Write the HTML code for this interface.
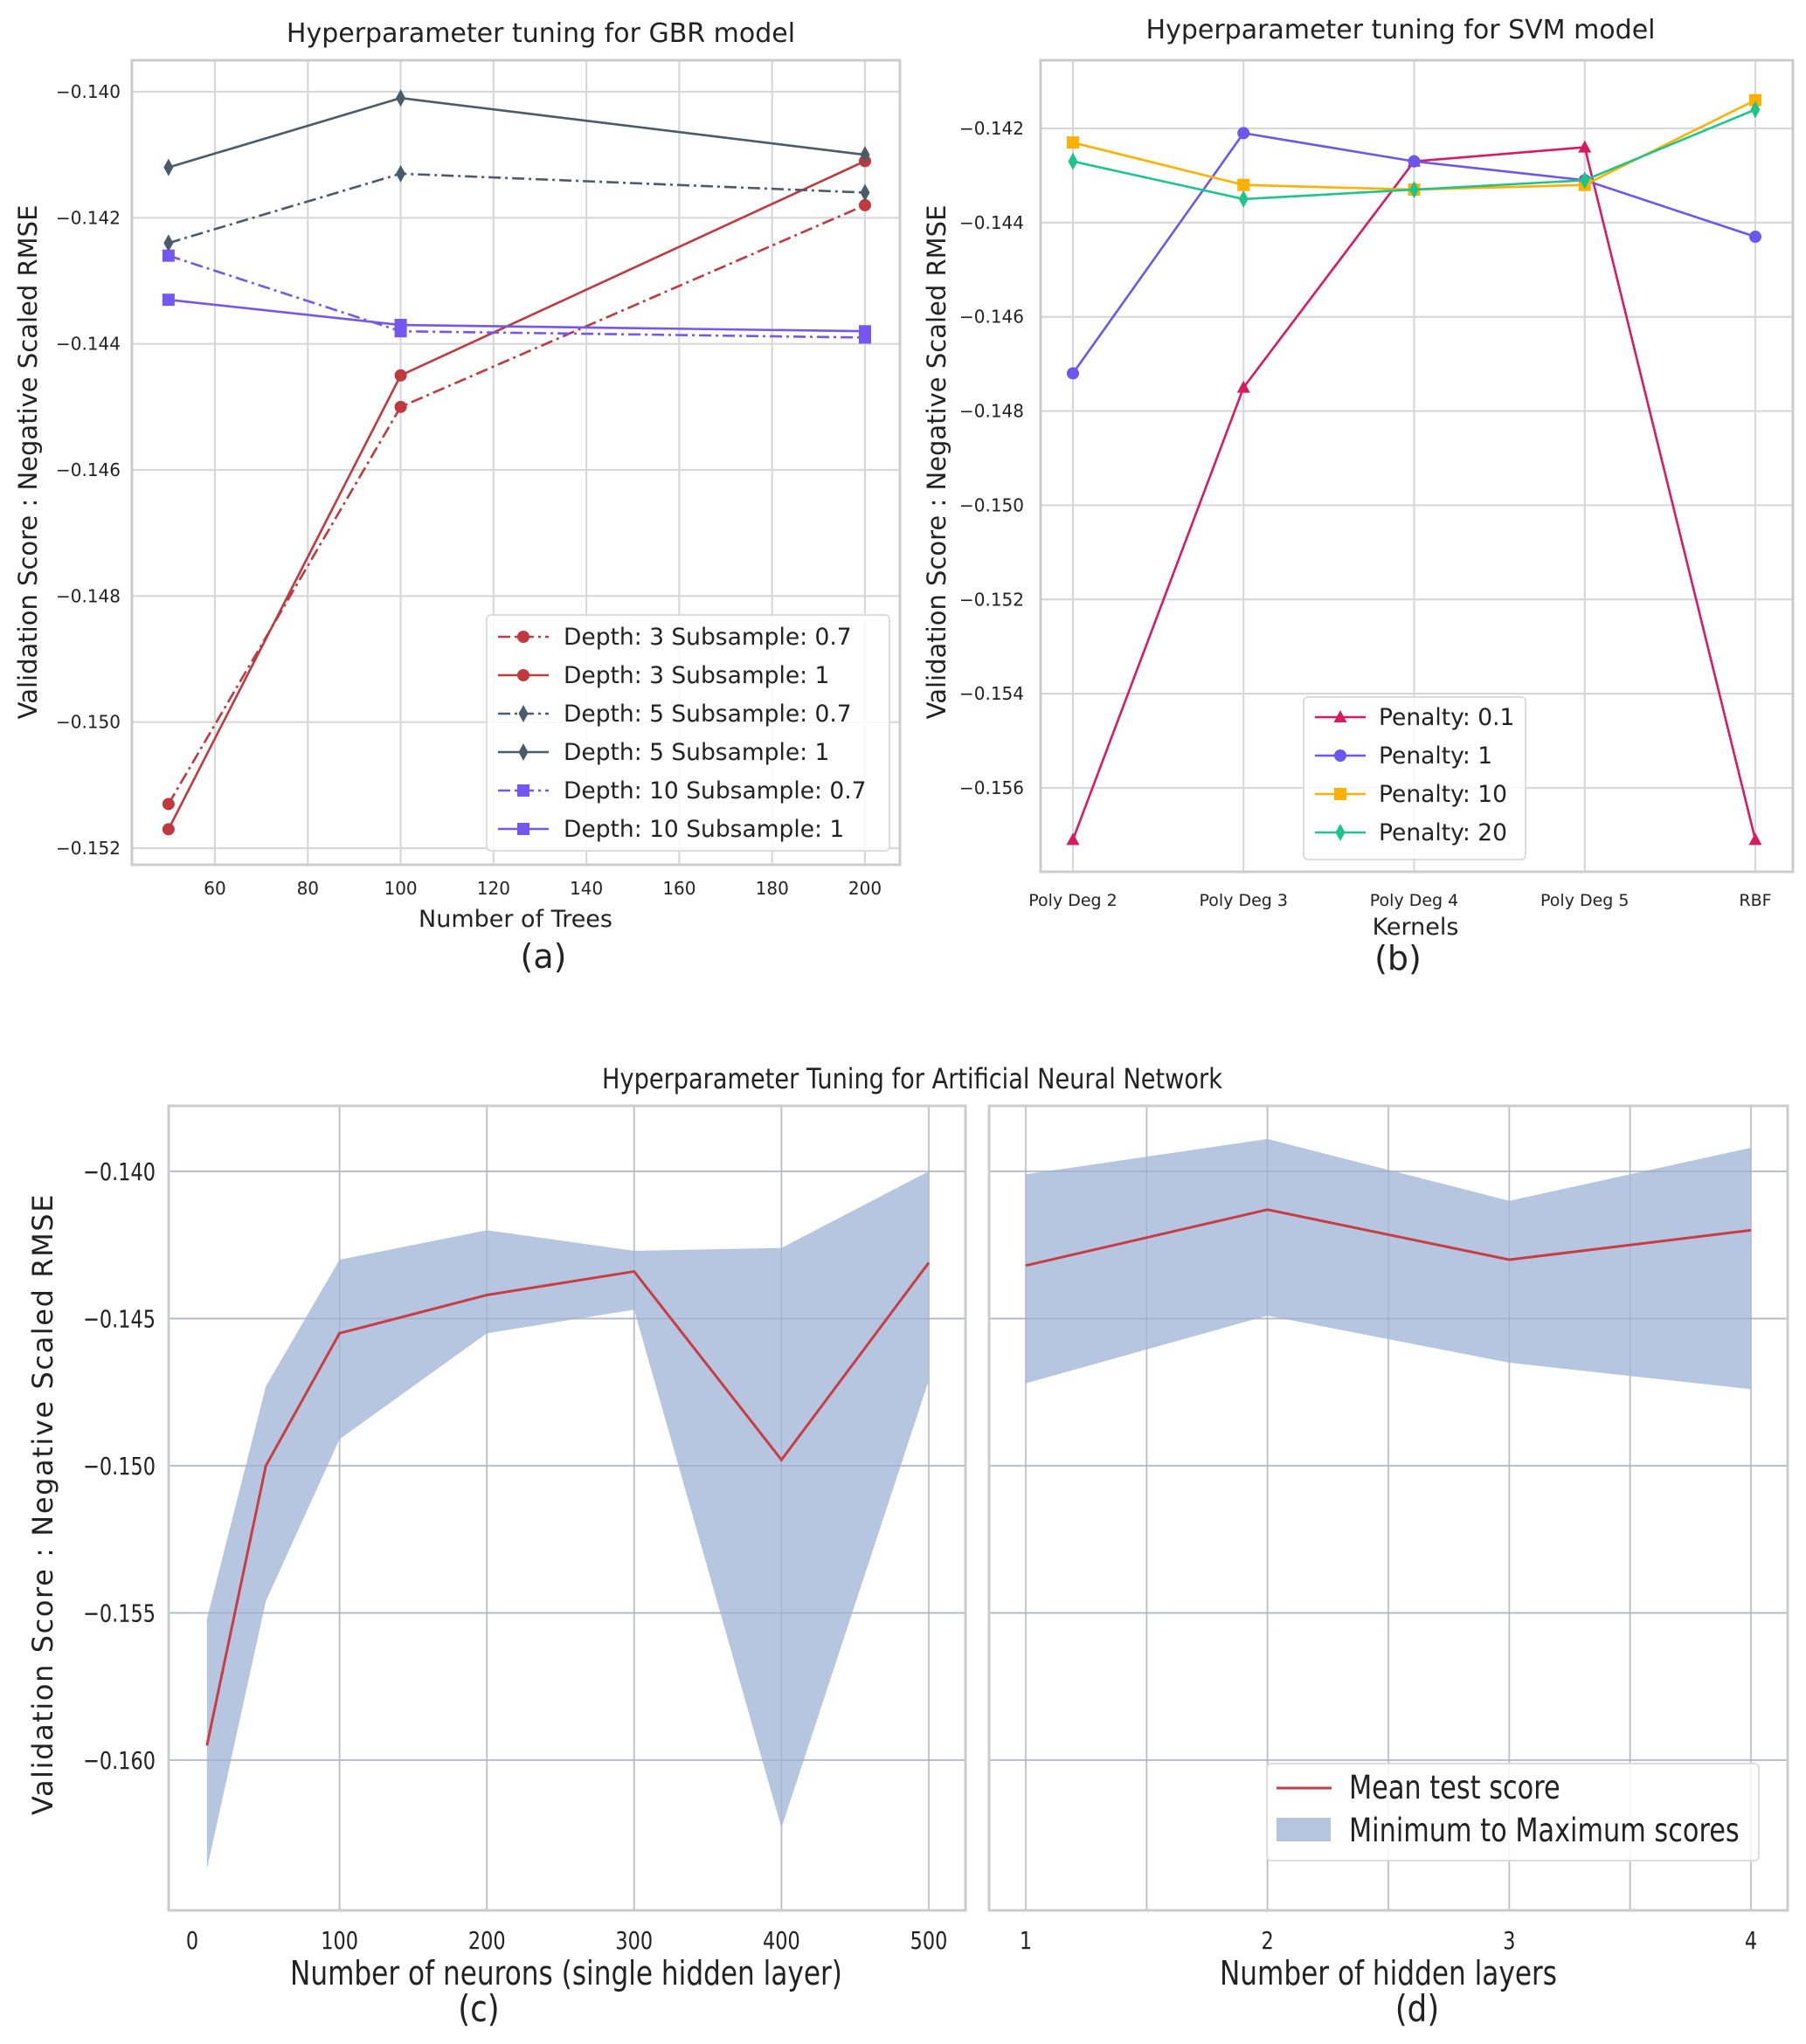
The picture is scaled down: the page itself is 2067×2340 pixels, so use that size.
<!DOCTYPE html>
<html><head><meta charset="utf-8"><style>
html,body{margin:0;padding:0;background:#fff;}
svg{display:block;font-family:"DejaVu Sans","Liberation Sans",sans-serif;}
</style></head><body>
<svg id="fig" width="2067" height="2340" viewBox="0 0 2067 2340" xmlns="http://www.w3.org/2000/svg"></svg>
<script>
// ---- Panel (a) data
const gbrTrees = [50, 100, 200];
const gbrD3S07 = [-0.1513, -0.1450, -0.1418];
const gbrD3S1 = [-0.1517, -0.1445, -0.1411];
const gbrD5S07 = [-0.1424, -0.1413, -0.1416];
const gbrD5S1 = [-0.1412, -0.1401, -0.1410];
const gbrD10S07 = [-0.1426, -0.1438, -0.1439];
const gbrD10S1 = [-0.1433, -0.1437, -0.1438];
const gbrXTicks = [60, 80, 100, 120, 140, 160, 180, 200];
const gbrYTicks = [-0.140, -0.142, -0.144, -0.146, -0.148, -0.150, -0.152];
// ---- Panel (b) data
const svmKernels = ["Poly Deg 2", "Poly Deg 3", "Poly Deg 4", "Poly Deg 5", "RBF"];
const svmP01 = [-0.1571, -0.1475, -0.1427, -0.1424, -0.1571];
const svmP1 = [-0.1472, -0.1421, -0.1427, -0.1431, -0.1443];
const svmP10 = [-0.1423, -0.1432, -0.1433, -0.1432, -0.1414];
const svmP20 = [-0.1427, -0.1435, -0.1433, -0.1431, -0.1416];
const svmYTicks = [-0.142, -0.144, -0.146, -0.148, -0.150, -0.152, -0.154, -0.156];
// ---- Panel (c) data
const annNeurons = [10, 50, 100, 200, 300, 400, 500];
const annNMean = [-0.1595, -0.1500, -0.1455, -0.1442, -0.1434, -0.1498, -0.1431];
const annNMax = [-0.1552, -0.1473, -0.1430, -0.1420, -0.1427, -0.1426, -0.1400];
const annNMin = [-0.1637, -0.1546, -0.1491, -0.1455, -0.1447, -0.1623, -0.1471];
const annNXTicks = [0, 100, 200, 300, 400, 500];
// ---- Panel (d) data
const annLayers = [1, 2, 3, 4];
const annLMean = [-0.1432, -0.1413, -0.1430, -0.1420];
const annLMax = [-0.1401, -0.1389, -0.1410, -0.1392];
const annLMin = [-0.1472, -0.1449, -0.1465, -0.1474];
const annLXTicks = [1, 2, 3, 4];
const annYTicks = [-0.140, -0.145, -0.150, -0.155, -0.160];

const NS = "http://www.w3.org/2000/svg";
const svg = document.getElementById('fig');
function el(tag, attrs, parent) {
  const e = document.createElementNS(NS, tag);
  for (const k in attrs) e.setAttribute(k, attrs[k]);
  (parent || svg).appendChild(e);
  return e;
}
function txt(s, x, y, size, anchor, parent, sx, rot) {
  const t = el('text', {x: 0, y: 0, 'font-size': size, 'text-anchor': anchor || 'middle', fill: '#222'}, parent);
  let tr = 'translate(' + x + ',' + y + ')';
  if (rot) tr += ' rotate(' + rot + ')';
  if (sx) tr += ' scale(' + sx + ',1)';
  t.setAttribute('transform', tr);
  t.textContent = s;
  return t;
}
function lin(d0, d1, r0, r1) { return v => r0 + (v - d0) * (r1 - r0) / (d1 - d0); }
function fmt(v, d) { return '\u2212' + Math.abs(v).toFixed(d); }

function frame(g, L, T, R, B) {
  const r = el('rect', {x: L, y: T, width: R - L, height: B - T, fill: 'none', stroke: '#cccccc', 'stroke-width': 3}, g);
  
  
}
function gridV(g, x, T, B) { el('line', {x1: x, x2: x, y1: T, y2: B, stroke: '#d8d8d8', 'stroke-width': 2.2}, g); }
function gridH(g, y, L, R) { el('line', {x1: L, x2: R, y1: y, y2: y, stroke: '#d8d8d8', 'stroke-width': 2.2}, g); }

function marker(g, type, x, y, color) {
  let m;
  if (type === 'o') m = el('circle', {cx: x, cy: y, r: 7, fill: color}, g);
  else if (type === 's') m = el('rect', {x: x - 7, y: y - 7, width: 14, height: 14, fill: color}, g);
  else if (type === 'd') m = el('path', {d: `M${x},${y-10}L${x+5.5},${y}L${x},${y+10}L${x-5.5},${y}Z`, fill: color}, g);
  else if (type === '^') m = el('path', {d: `M${x},${y-8}L${x+7.5},${y+6}L${x-7.5},${y+6}Z`, fill: color}, g);
  
  
}
function series(g, xs, ys, X, Y, color, dash, mk, name) {
  const pts = xs.map((v, i) => X(v) + ',' + Y(ys[i])).join(' ');
  const p = el('polyline', {points: pts, fill: 'none', stroke: color, 'stroke-width': 2.6}, g);
  if (dash) p.setAttribute('stroke-dasharray', '14,5,3,5');
  
  
  xs.forEach((v, i) => marker(g, mk, X(v), Y(ys[i]), color));
}
function legendBox(g, x, y, w, h) {
  const r = el('rect', {x: x, y: y, width: w, height: h, rx: 5, fill: 'rgba(255,255,255,0.85)', stroke: '#dddddd', 'stroke-width': 2}, g);
  
  
}

// ================= Panel (a)
(function () {
  const g = el('g', {});
  
  
  const L = 151, R = 1030, T = 69, B = 990;
  const X = lin(60, 200, 246, 990), Y = lin(-0.140, -0.152, 105, 971);
  gbrXTicks.forEach(v => gridV(g, X(v), T, B));
  gbrYTicks.forEach(v => gridH(g, Y(v), L, R));
  frame(g, L, T, R, B);
  gbrXTicks.forEach(v => txt(String(v), X(v), 1024, 20, 'middle', g));
  gbrYTicks.forEach(v => txt(fmt(v, 3), 138, Y(v) + 7, 20, 'end', g));
  txt('Hyperparameter tuning for GBR model', 619, 48, 30, 'middle', g);
  txt('Number of Trees', 590, 1061, 27, 'middle', g);
  txt('Validation Score : Negative Scaled RMSE', 42, 529, 29, 'middle', g, 0, -90);
  txt('(a)', 622, 1108, 38, 'middle', g);
  const red = '#c0393f', slate = '#4b5b6a', pur = '#7357ee';
  const S = [[gbrD3S07, red, true, 'o', 'Depth: 3 Subsample: 0.7'], [gbrD3S1, red, false, 'o', 'Depth: 3 Subsample: 1'],
    [gbrD5S07, slate, true, 'd', 'Depth: 5 Subsample: 0.7'], [gbrD5S1, slate, false, 'd', 'Depth: 5 Subsample: 1'],
    [gbrD10S07, pur, true, 's', 'Depth: 10 Subsample: 0.7'], [gbrD10S1, pur, false, 's', 'Depth: 10 Subsample: 1']];
  S.forEach(s => series(g, gbrTrees, s[0], X, Y, s[1], s[2], s[3], 'gbr-line'));
  legendBox(g, 557, 704, 461, 270);
  S.forEach((s, i) => {
    const y = 729 + i * 44;
    const ln = el('line', {x1: 570, x2: 628, y1: y, y2: y, stroke: s[1], 'stroke-width': 2.6}, g);
    if (s[2]) ln.setAttribute('stroke-dasharray', '14,5,3,5');
    marker(g, s[3], 599, y, s[1]);
    txt(s[4], 645, y + 9, 26.5, 'start', g);
  });
})();

// ================= Panel (b)
(function () {
  const g = el('g', {});
  
  
  const L = 1191, R = 2052, T = 69, B = 998;
  const X = lin(0, 4, 1228, 2009), Y = lin(-0.142, -0.156, 147, 902);
  const idx = svmKernels.map((k, i) => i);
  idx.forEach(i => gridV(g, X(i), T, B));
  svmYTicks.forEach(v => gridH(g, Y(v), L, R));
  frame(g, L, T, R, B);
  svmKernels.forEach((k, i) => txt(k, X(i), 1037, 19, 'middle', g));
  svmYTicks.forEach(v => txt(fmt(v, 3), 1172, Y(v) + 7, 20, 'end', g));
  txt('Hyperparameter  tuning for SVM model', 1603, 44, 30, 'middle', g);
  txt('Kernels', 1620, 1070, 27, 'middle', g);
  txt('Validation Score : Negative Scaled RMSE', 1082, 529, 29, 'middle', g, 0, -90);
  txt('(b)', 1600, 1110, 38, 'middle', g);
  const S = [[svmP01, '#d81b60', '^', 'Penalty: 0.1'], [svmP1, '#6b57ef', 'o', 'Penalty: 1'],
    [svmP10, '#ffb000', 's', 'Penalty: 10'], [svmP20, '#1dc58a', 'd', 'Penalty: 20']];
  S.forEach(s => series(g, idx, s[0], X, Y, s[1], false, s[2], 'svm-line'));
  legendBox(g, 1492, 798, 254, 186);
  S.forEach((s, i) => {
    const y = 821 + i * 44;
    el('line', {x1: 1505, x2: 1563, y1: y, y2: y, stroke: s[1], 'stroke-width': 2.6}, g);
    marker(g, s[2], 1534, y, s[1]);
    txt(s[3], 1578, y + 9, 26.5, 'start', g);
  });
})();

// ================= Panels (c), (d)
const fillC = '#b5c4df', meanC = '#c83c43';
txt('Hyperparameter Tuning for Artificial Neural Network', 1044, 1246, 32, 'middle', svg, 0.85);
function bandPanel(name, L, R, X, xs, mean, mx, mn, xticks, gridXs, xlabel, xlabelX, plabel, plabelX, yAxis) {
  const g = el('g', {});
  
  
  const T = 1266, B = 2187;
  const Y = lin(-0.140, -0.160, 1341, 2015);
  gridXs.forEach(v => gridV(g, X(v), T, B));
  annYTicks.forEach(v => gridH(g, Y(v), L, R));
  const up = xs.map((v, i) => X(v) + ',' + Y(mx[i]));
  const dn = xs.map((v, i) => X(v) + ',' + Y(mn[i])).reverse();
  const band = el('polygon', {points: up.concat(dn).join(' '), fill: fillC, opacity: 0.97}, g);
  
  
  gridXs.forEach(v => el('line', {x1: X(v), x2: X(v), y1: T, y2: B, stroke: '#8e9bb3', 'stroke-width': 1, opacity: 0.5}, g));
  annYTicks.forEach(v => el('line', {x1: L, x2: R, y1: Y(v), y2: Y(v), stroke: '#8e9bb3', 'stroke-width': 1.5, opacity: 0.5}, g));
  const ml = el('polyline', {points: xs.map((v, i) => X(v) + ',' + Y(mean[i])).join(' '), fill: 'none', stroke: meanC, 'stroke-width': 3}, g);
  
  
  frame(g, L, T, R, B);
  xticks.forEach(v => txt(String(v), X(v), 2231, 28, 'middle', g, 0.8));
  if (yAxis) {
    annYTicks.forEach(v => txt(fmt(v, 3), 178, Y(v) + 10, 28, 'end', g, 0.8));
    const yt = txt('Validation Score : Negative Scaled RMSE', 60, 1722, 32, 'middle', g, 0, -90);
    yt.setAttribute('letter-spacing', '1.6');
    
  }
  txt(xlabel, xlabelX, 2272, 38, 'middle', g, 0.82);
  txt(plabel, plabelX, 2314, 42, 'middle', g, 0.85);
  return g;
}
(function () {
  const X = lin(0, 500, 220, 1063);
  bandPanel('ann-neurons-chart', 193, 1105, X, annNeurons, annNMean, annNMax, annNMin, annNXTicks, [100, 200, 300, 400, 500],
    'Number of neurons (single hidden layer)', 648, '(c)', 548, true);
})();
(function () {
  const X = lin(1, 4, 1174, 2004);
  const g = bandPanel('ann-layers-chart', 1132, 2046, X, annLayers, annLMean, annLMax, annLMin, annLXTicks, [1, 1.5, 2, 2.5, 3, 3.5, 4],
    'Number of hidden layers', 1589, '(d)', 1622, false);
  legendBox(g, 1450, 2019, 563, 111);
  el('line', {x1: 1461, x2: 1524, y1: 2047, y2: 2047, stroke: meanC, 'stroke-width': 3}, g);
  el('rect', {x: 1461, y: 2081, width: 62, height: 27, fill: fillC}, g);
  txt('Mean test score', 1544, 2059, 37, 'start', g, 0.82);
  txt('Minimum to Maximum scores', 1544, 2108, 37, 'start', g, 0.82);
})();
</script>
</body></html>
